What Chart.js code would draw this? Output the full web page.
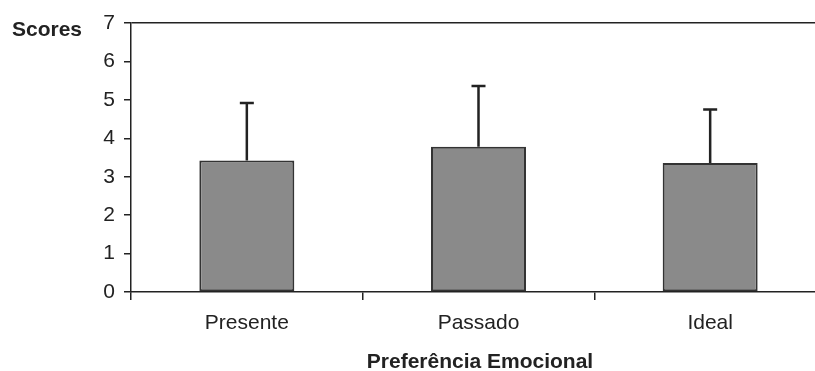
<!DOCTYPE html>
<html><head><meta charset="utf-8">
<script src="https://cdn.jsdelivr.net/npm/chart.js@4"></script>
<style>
html,body{margin:0;padding:0;background:#fff;overflow:hidden;width:815px;height:371px;}
#wrap{position:relative;width:826px;height:371px;}
canvas{display:block;}
.lbl{position:absolute;font-family:"Liberation Sans",Arial,sans-serif;font-weight:bold;color:#222;white-space:nowrap;font-size:21px;line-height:21px;}
#ytitle{left:12px;top:18px;}
#xtitle{left:480px;top:350px;transform:translateX(-50%);}
</style></head>
<body>
<div id="wrap">
<canvas id="c" width="826" height="371"></canvas>
<div class="lbl" id="ytitle">Scores</div>
<div class="lbl" id="xtitle">Preferência Emocional</div>
</div>
<script>
const categories = ["Presente", "Passado", "Ideal"];
const means = [3.42, 3.78, 3.36];
const errorsUp = [1.50, 1.58, 1.39];
const yTicks = [0, 1, 2, 3, 4, 5, 6, 7];

const ink = '#222';
const fontFamily = '"Liberation Sans", Arial, sans-serif';

const errorBars = {
  id: 'errorBars',
  afterDatasetsDraw(chart) {
    const ctx = chart.ctx;
    const meta = chart.getDatasetMeta(0);
    const y = chart.scales.y;
    ctx.save();
    ctx.strokeStyle = ink;
    ctx.lineWidth = 2.5;
    meta.data.forEach((bar, i) => {
      const x = bar.x;
      const y0 = y.getPixelForValue(means[i]);
      const y1 = y.getPixelForValue(means[i] + errorsUp[i]);
      ctx.beginPath();
      ctx.moveTo(x, y0);
      ctx.lineTo(x, y1);
      ctx.moveTo(x - 7, y1);
      ctx.lineTo(x + 7, y1);
      ctx.stroke();
    });
    ctx.restore();
  }
};

new Chart(document.getElementById('c'), {
  type: 'bar',
  data: {
    labels: categories,
    datasets: [{
      data: means,
      backgroundColor: '#8a8a8a',
      borderColor: '#333',
      borderWidth: 2,
      borderSkipped: false,
      barPercentage: 0.41,
      categoryPercentage: 1.0
    }]
  },
  options: {
    responsive: false,
    animation: false,
    layout: { padding: { top: 23, left: 0, right: 0, bottom: 0 } },
    plugins: { legend: { display: false }, tooltip: { enabled: false } },
    scales: {
      x: {
        offset: true,
        grid: { offset: true, color: 'transparent', tickColor: ink, tickLength: 8, lineWidth: 1.5, drawOnChartArea: false },
        border: { display: true, color: ink, width: 1.5 },
        ticks: { color: ink, padding: 11, font: { family: fontFamily, size: 21 } },
        afterFit(s) { s.height = 79; }
      },
      y: {
        min: 0, max: 7,
        afterBuildTicks(s) { s.ticks = yTicks.map(v => ({ value: v })); },
        grid: {
          color: c => (c.tick && c.tick.value === 7) ? ink : 'transparent',
          tickColor: ink, tickLength: 7, lineWidth: 1.5
        },
        border: { display: true, color: ink, width: 1.5 },
        ticks: { color: ink, padding: 9, font: { family: fontFamily, size: 21 } },
        afterFit(s) { s.width = 131; }
      }
    }
  },
  plugins: [errorBars]
});
</script>
</body></html>
